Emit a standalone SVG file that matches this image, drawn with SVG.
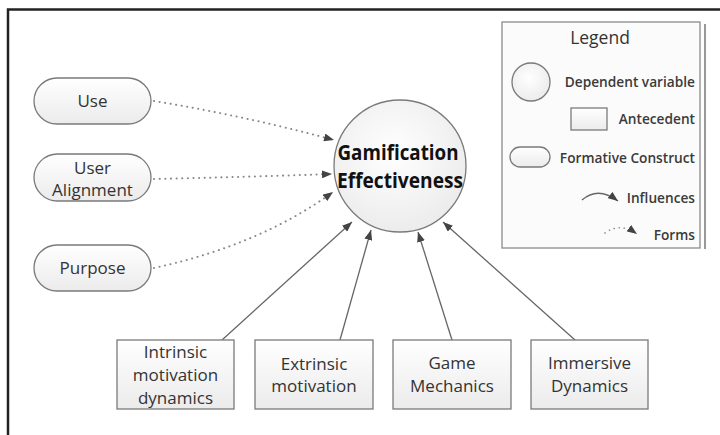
<svg xmlns="http://www.w3.org/2000/svg" width="720" height="435" viewBox="0 0 720 435">
<style>
.node{fill:url(#g1);stroke:#7a7a7a;stroke-width:1.3}
.t{font-family:"Open Sans","Liberation Sans",sans-serif;font-size:17px;fill:#333;text-anchor:middle}
.lt{font-family:"Open Sans","Liberation Sans",sans-serif;font-size:13.7px;font-weight:600;fill:#3a3a3a;text-anchor:end}
.solid{fill:none;stroke:#666;stroke-width:1.3;marker-end:url(#ah)}
.dot{fill:none;stroke:#888;stroke-width:2;stroke-dasharray:0.1 5.5;stroke-linecap:round;marker-end:url(#ah)}
</style>
<defs>
<linearGradient id="g1" x1="0" y1="0" x2="0" y2="1"><stop offset="0" stop-color="#ffffff"/><stop offset="1" stop-color="#ebebeb"/></linearGradient>
<radialGradient id="g2" cx="0.45" cy="0.4" r="0.6"><stop offset="0" stop-color="#ffffff"/><stop offset="1" stop-color="#ececec"/></radialGradient>
<marker id="ah" viewBox="0 0 10 8" refX="10" refY="4" markerWidth="10" markerHeight="8" markerUnits="userSpaceOnUse" orient="auto"><path d="M0,0 L10,4 L0,8 z" fill="#444"/></marker>
</defs>
<rect width="720" height="435" fill="#fff"/>
<path d="M8,435 V9.5 H720" fill="none" stroke="#222" stroke-width="2.5"/>

<g id="connectors">
<path class="dot" d="M154,101 Q245,116 334,140"/>
<path class="dot" d="M154,179 Q245,177 332,174"/>
<path class="dot" d="M154,268 Q260,245 333,192"/>
<path class="solid" d="M222,340 L352,222"/>
<path class="solid" d="M340,340 L371,230"/>
<path class="solid" d="M452,340 L418,232"/>
<path class="solid" d="M575,340 L443,222"/>
</g>

<g id="use"><rect class="node" x="34" y="78" width="117" height="46" rx="23"/><text class="t" x="92.5" y="107">Use</text></g>
<g id="user-alignment"><rect class="node" x="34" y="154" width="117" height="47" rx="23.5"/><text class="t" x="92.5" y="174">User</text><text class="t" x="92.5" y="196">Alignment</text></g>
<g id="purpose"><rect class="node" x="34" y="245" width="117" height="46" rx="23"/><text class="t" x="92.5" y="274">Purpose</text></g>

<g id="gamification"><circle cx="400" cy="166" r="66" fill="url(#g2)" stroke="#7a7a7a" stroke-width="1.3"/>
<text x="398" y="160" font-family="Open Sans,Liberation Sans,sans-serif" font-weight="bold" font-size="21" fill="#111" text-anchor="middle" textLength="121" lengthAdjust="spacingAndGlyphs">Gamification</text>
<text x="400" y="188" font-family="Open Sans,Liberation Sans,sans-serif" font-weight="bold" font-size="21" fill="#111" text-anchor="middle" textLength="126" lengthAdjust="spacingAndGlyphs">Effectiveness</text></g>

<g id="intrinsic"><rect class="node" x="117" y="340" width="117" height="69"/><text class="t" x="175.5" y="358">Intrinsic</text><text class="t" x="175.5" y="381">motivation</text><text class="t" x="175.5" y="404">dynamics</text></g>
<g id="extrinsic"><rect class="node" x="255" y="340" width="118" height="69"/><text class="t" x="314" y="370">Extrinsic</text><text class="t" x="314" y="392">motivation</text></g>
<g id="game-mechanics"><rect class="node" x="393" y="340" width="118" height="69"/><text class="t" x="452" y="369">Game</text><text class="t" x="452" y="392">Mechanics</text></g>
<g id="immersive"><rect class="node" x="531" y="340" width="117" height="69"/><text class="t" x="589.5" y="369">Immersive</text><text class="t" x="589.5" y="392">Dynamics</text></g>

<g id="legend">
<line x1="705" y1="24" x2="705" y2="249" stroke="#999" stroke-width="2"/>
<rect x="502" y="22" width="198" height="226" fill="#fbfbfb" stroke="#8a8a8a" stroke-width="1.3"/>
<text x="600" y="44" font-family="Open Sans,Liberation Sans,sans-serif" font-size="17.5" fill="#333" text-anchor="middle">Legend</text>
<circle cx="531" cy="82" r="19" fill="url(#g2)" stroke="#7a7a7a" stroke-width="1.3"/>
<text class="lt" x="695" y="87">Dependent variable</text>
<rect x="571" y="108" width="36" height="22" fill="url(#g1)" stroke="#7a7a7a" stroke-width="1.3"/>
<text class="lt" x="695" y="124">Antecedent</text>
<rect x="510" y="147" width="40" height="20" rx="10" fill="url(#g1)" stroke="#7a7a7a" stroke-width="1.3"/>
<text class="lt" x="695" y="163">Formative Construct</text>
<path d="M582,200 Q598,186 618,201" fill="none" stroke="#666" stroke-width="1.3" marker-end="url(#ah)"/>
<text class="lt" x="695" y="203">Influences</text>
<path d="M605,233 Q620,222 637,234" fill="none" stroke="#888" stroke-width="1.6" stroke-dasharray="0.1 5" stroke-linecap="round" marker-end="url(#ah)"/>
<text class="lt" x="695" y="240">Forms</text>
</g>
</svg>
